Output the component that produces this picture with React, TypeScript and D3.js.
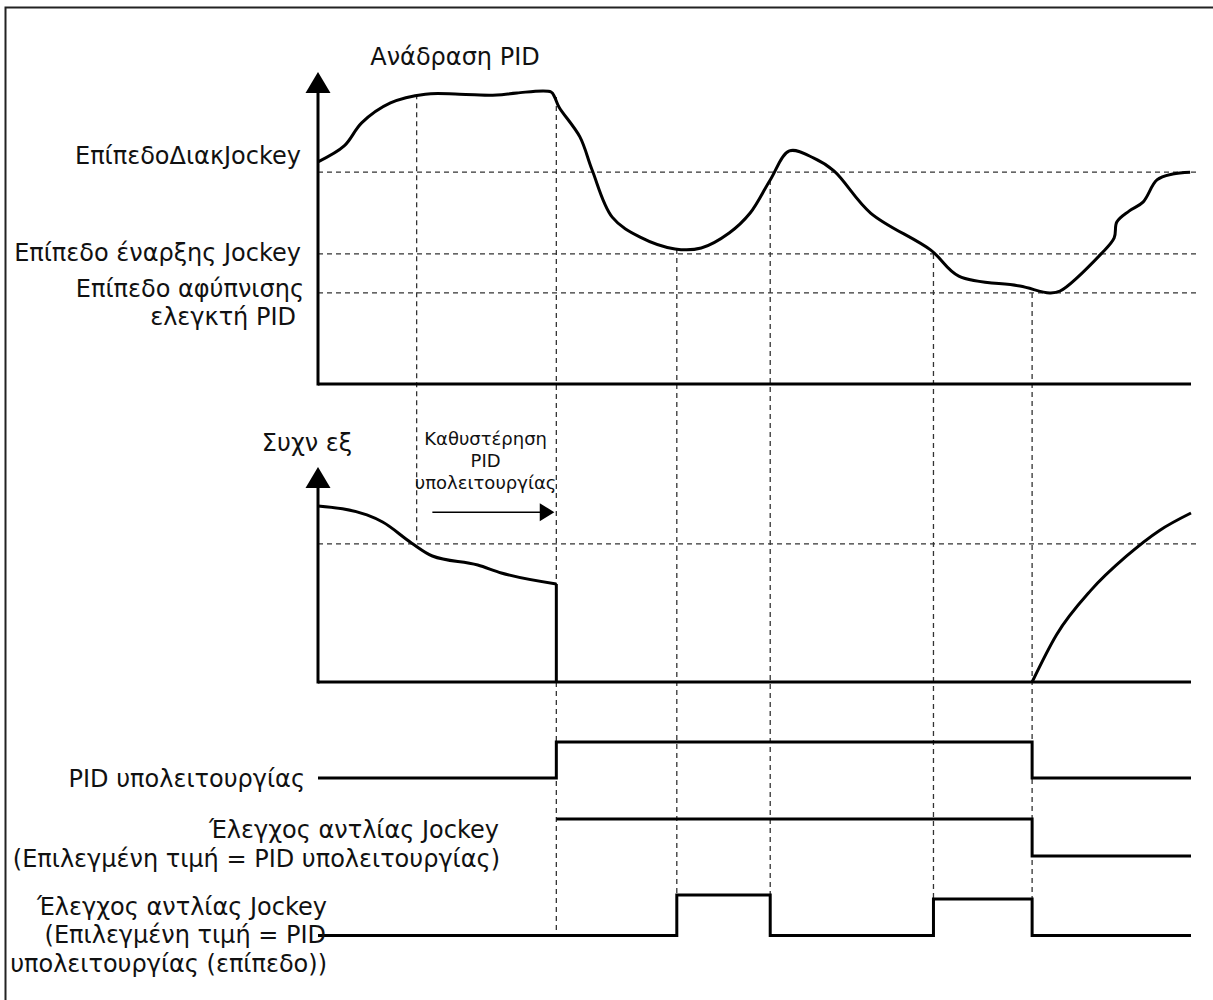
import React from "react";
import * as d3 from "d3";

// time runs 0..100 from the y axis to the right end of the chart
const eventTimes = [11.3, 27.3, 41.1, 51.8, 70.5, 81.8];

// PID feedback (upper panel), value 0..100
const feedbackT = [0, 3, 5, 8.3, 12.3, 16.2, 20.5, 22.8, 26.7, 27.1, 27.6, 30, 31.4, 33.7, 36.9, 40.9, 43.9, 47.1, 49.5, 51.8, 54, 56.8, 59.1, 63.3, 70.2, 73.4, 80.4, 83.8, 85, 89.7, 91.2, 91.5, 92.9, 94.5, 96.1, 97.9, 99.9];
const feedbackV = [71.2, 76.3, 83.7, 90.1, 92.9, 92.9, 92.6, 93.3, 93.6, 92, 88.8, 79.2, 68.6, 53.5, 47.1, 43.3, 43.6, 48.4, 54.8, 65.4, 74.7, 72.4, 68.3, 54.8, 42.9, 34.6, 31.4, 29.2, 29.8, 41.7, 46.8, 51.9, 55.4, 58.3, 65.4, 67.3, 67.9];
const levelNames = ["ΕπίπεδοΔιακJockey", "Επίπεδο έναρξης Jockey", "Επίπεδο αφύπνισης"];
const levelValues = [67.9, 41.7, 29.2];

// output frequency (middle panel)
const freqT1 = [0, 5.6, 7.4, 10.7, 13.1, 18.3, 21, 27.3];
const freqV1 = [81.9, 77.7, 74.4, 64.7, 58.6, 54.4, 50.7, 45.6];
const freqT2 = [81.8, 84.6, 88.5, 92.6, 96.4, 100];
const freqV2 = [0, 22, 42.5, 58.5, 70.5, 78.6];
const freqLevel = 64.2;

// digital signals (bottom)
const sleepT = [0, 27.3, 81.8, 100];
const sleepS = [0, 1, 0, 0];
const jockeySleepT = [27.3, 81.8, 100];
const jockeySleepS = [1, 0, 0];
const jockeyLevelT = [0, 41.1, 51.8, 70.5, 81.8, 100];
const jockeyLevelS = [0, 1, 0, 0.9, 0, 0];

const FONT = "'DejaVu Sans', Verdana, sans-serif";

export default function App() {
  const x = d3.scaleLinear().domain([0, 100]).range([318, 1191]);
  const yTop = d3.scaleLinear().domain([0, 100]).range([384, 72]);
  const yFreq = d3.scaleLinear().domain([0, 100]).range([682, 467]);
  const ySleep = d3.scaleLinear().domain([0, 1]).range([778, 742]);
  const yJSleep = d3.scaleLinear().domain([0, 1]).range([856, 819]);
  const yJLevel = d3.scaleLinear().domain([0, 1]).range([935.5, 895]);

  const lineOf = (ys: d3.ScaleLinear<number, number>, curve: d3.CurveFactory) =>
    d3
      .line<[number, number]>()
      .x((d) => x(d[0]))
      .y((d) => ys(d[1]))
      .curve(curve);
  const zip = (a: number[], b: number[]) => a.map((t, i) => [t, b[i]] as [number, number]);

  const feedbackPath = lineOf(yTop, d3.curveCatmullRom.alpha(0.5))(zip(feedbackT, feedbackV));
  const freqPath1 = lineOf(yFreq, d3.curveMonotoneX)(zip(freqT1, freqV1));
  const freqPath2 = lineOf(yFreq, d3.curveMonotoneX)(zip(freqT2, freqV2));

  const arrowUp = (cx: number, tip: number) =>
    `M${cx},${tip} L${cx - 12.5},${tip + 21} L${cx + 12.5},${tip + 21} Z`;

  // where each dashed event line starts and stops
  const eventTop = [yTop(92.9), yTop(92), yTop(43.3), yTop(65.4), yTop(levelValues[1]), yTop(levelValues[2])];
  const eventBottom = [yFreq(freqLevel), yJLevel(0), yJLevel(1), yJLevel(1), yJLevel(0.9), yJLevel(0.9)];

  const txt = { fontFamily: FONT, fontSize: 24, fill: "#111" } as const;
  const dash = { stroke: "#333", strokeWidth: 1.3, strokeDasharray: "5,4", fill: "none" } as const;
  const thick = { stroke: "#000", strokeWidth: 3, fill: "none" } as const;
  const delayT = freqT1[freqT1.length - 1];
  const delayV = freqV1[freqV1.length - 1];

  return (
    <svg
      width={1213}
      height={1000}
      style={{ position: "absolute", left: 0, top: 0, background: "#fff" }}
    >
      <rect x={5.5} y={7.5} width={1300} height={1100} fill="none" stroke="#222" strokeWidth={2} />

      {/* dashed level lines */}
      {levelValues.map((v, i) => (
        <line key={i} x1={x(0)} x2={x(100.6)} y1={yTop(v)} y2={yTop(v)} style={dash} />
      ))}
      <line x1={x(0)} x2={x(100.6)} y1={yFreq(freqLevel)} y2={yFreq(freqLevel)} style={dash} />
      {eventTimes.map((t, i) => (
        <line key={i} x1={x(t)} x2={x(t)} y1={eventTop[i]} y2={eventBottom[i]} style={dash} />
      ))}

      {/* upper panel */}
      <line x1={x(0)} x2={x(0)} y1={yTop(0) + 1.5} y2={yTop(100) + 20} style={thick} />
      <path d={arrowUp(x(0), yTop(100))} fill="#000" />
      <line x1={x(0)} x2={x(100)} y1={yTop(0)} y2={yTop(0)} style={thick} />
      <path d={feedbackPath || ""} style={thick} />
      <text x={455} y={65} textAnchor="middle" style={txt}>Ανάδραση PID</text>
      <text x={301} y={yTop(levelValues[0]) - 8} textAnchor="end" style={txt}>{levelNames[0]}</text>
      <text x={301} y={yTop(levelValues[1]) + 7} textAnchor="end" style={txt}>{levelNames[1]}</text>
      <text x={304} y={yTop(levelValues[2]) + 4} textAnchor="end" style={txt}>{levelNames[2]}</text>
      <text x={296} y={325} textAnchor="end" style={txt}>ελεγκτή PID</text>

      {/* middle panel */}
      <line x1={x(0)} x2={x(0)} y1={yFreq(0) + 1.5} y2={yFreq(100) + 20} style={thick} />
      <path d={arrowUp(x(0), yFreq(100))} fill="#000" />
      <line x1={x(0)} x2={x(100)} y1={yFreq(0)} y2={yFreq(0)} style={thick} />
      <path d={freqPath1 || ""} style={thick} />
      <line x1={x(delayT)} x2={x(delayT)} y1={yFreq(delayV)} y2={yFreq(0)} style={thick} />
      <path d={freqPath2 || ""} style={thick} />
      <text x={307} y={451} textAnchor="middle" style={txt}>Συχν εξ</text>
      <g style={{ fontFamily: FONT, fontSize: 18, fill: "#111" }} textAnchor="middle">
        <text x={x(19.2)} y={445}>Καθυστέρηση</text>
        <text x={x(19.2)} y={467}>PID</text>
        <text x={x(19.2)} y={489}>υπολειτουργίας</text>
      </g>
      <line x1={x(13.1)} x2={x(25.5)} y1={yFreq(79)} y2={yFreq(79)} stroke="#000" strokeWidth={1.5} />
      <path
        d={`M${x(delayT) - 2},${yFreq(79)} L${x(25.4)},${yFreq(79) - 9} L${x(25.4)},${yFreq(79) + 9} Z`}
        fill="#000"
      />

      {/* signals */}
      <path d={lineOf(ySleep, d3.curveStepAfter)(zip(sleepT, sleepS)) || ""} style={thick} />
      <path d={lineOf(yJSleep, d3.curveStepAfter)(zip(jockeySleepT, jockeySleepS)) || ""} style={thick} />
      <path d={lineOf(yJLevel, d3.curveStepAfter)(zip(jockeyLevelT, jockeyLevelS)) || ""} style={thick} />
      <text x={305} y={787} textAnchor="end" style={txt}>PID υπολειτουργίας</text>
      <text x={499} y={838} textAnchor="end" style={txt}>Έλεγχος αντλίας Jockey</text>
      <text x={500} y={867} textAnchor="end" style={txt}>(Επιλεγμένη τιμή = PID υπολειτουργίας)</text>
      <text x={327} y={915} textAnchor="end" style={txt}>Έλεγχος αντλίας Jockey</text>
      <text x={326} y={943} textAnchor="end" style={txt}>(Επιλεγμένη τιμή = PID</text>
      <text x={327} y={972} textAnchor="end" style={txt}>υπολειτουργίας (επίπεδο))</text>
    </svg>
  );
}
